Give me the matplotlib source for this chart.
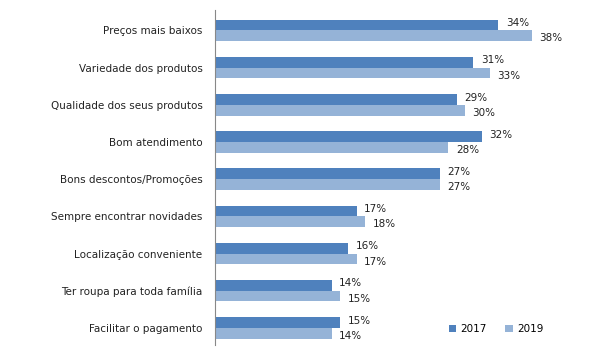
import numpy as np
import matplotlib
matplotlib.use("Agg")
import matplotlib.pyplot as plt

categories = ['Preços mais baixos', 'Variedade dos produtos', 'Qualidade dos seus produtos',
              'Bom atendimento', 'Bons descontos/Promoções', 'Sempre encontrar novidades',
              'Localização conveniente', 'Ter roupa para toda família', 'Facilitar o pagamento']
vals_2017 = [34, 31, 29, 32, 27, 17, 16, 14, 15]
vals_2019 = [38, 33, 30, 28, 27, 18, 17, 15, 14]
series_names = ['2017', '2019']

c2017 = '#4F81BD'
c2019 = '#95B3D7'

fig = plt.figure(figsize=(6.01, 3.51), dpi=100)
ax = fig.add_axes([215 / 601, 6 / 351, 375 / 601, 335 / 351])

y = np.arange(len(categories))
h = 0.29
b1 = ax.barh(y - h / 2, vals_2017, height=h, color=c2017, label=series_names[0])
b2 = ax.barh(y + h / 2, vals_2019, height=h, color=c2019, label=series_names[1])

for bars, vals in ((b1, vals_2017), (b2, vals_2019)):
    for bar, v in zip(bars, vals):
        ax.text(v + 0.9, bar.get_y() + bar.get_height() / 2 + (-0.05 if bars is b1 else 0.07),
                f'{v}%', va='center', ha='left', fontsize=7.5, color='#222222')

ax.set_xlim(0, 45)
ax.set_ylim(len(categories) - 1 + 0.46, -0.55)
ax.set_yticks(y)
ax.set_yticklabels(categories, fontsize=7.5, color='#222222')
ax.tick_params(axis='y', length=0, pad=9)
ax.set_xticks([])
for s in ['top', 'right', 'bottom']:
    ax.spines[s].set_visible(False)
ax.spines['left'].set_color('#888888')

ax.legend(loc='lower right', bbox_to_anchor=(0.90, 0.005), ncol=2, frameon=False,
          fontsize=7.5, handlelength=0.7, handleheight=0.7, columnspacing=1.8,
          handletextpad=0.4)

fig.savefig('out.png', dpi=100)
